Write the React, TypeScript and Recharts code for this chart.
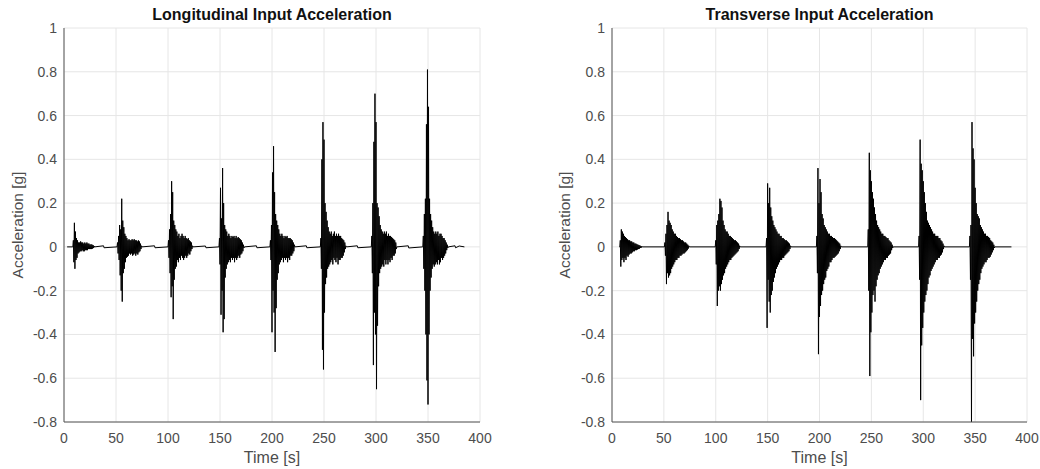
import { LineChart, Line, XAxis, YAxis, CartesianGrid } from "recharts";

// sample spacing inside each burst, seconds
const DT = 0.5;

const xTicks = [0, 50, 100, 150, 200, 250, 300, 350, 400];
const yTicks = [-0.8, -0.6, -0.4, -0.2, 0, 0.2, 0.4, 0.6, 0.8, 1];

// ---- Longitudinal ----
const longStart = 3;
const longEnd = 385;
const longOnsets = [9, 51.5, 100.5, 149.5, 198.5, 247, 296, 345.5];
const long1 = [0.03,-0.07,0.11,-0.10,0.07,-0.06,0.04,-0.05,0.03,-0.03,0.02,-0.025,0.02,-0.02,0.025,-0.02,0.02,-0.015,0.02,-0.02,0.015,-0.02,0.02,-0.015,0.015,-0.015,0.02,-0.015,0.015,-0.01,0.015,-0.01,0.01,-0.01,0.012,-0.01,0.01,-0.008,0.008,-0.005,0.004];
const long2 = [0.02,-0.03,0.05,-0.06,0.1,-0.13,0.08,-0.2,0.22,-0.25,0.12,-0.12,0.09,-0.1,0.06,-0.07,0.05,-0.05,0.04,-0.045,0.03,-0.04,0.035,-0.03,0.03,-0.035,0.03,-0.03,0.035,-0.04,0.03,-0.035,0.035,-0.03,0.03,-0.04,0.03,-0.03,0.025,-0.035,0.03,-0.025,0.025,-0.02,0.015,-0.01,0.005];
const long3 = [0.03,-0.05,0.08,-0.12,0.15,-0.23,0.30,-0.18,0.25,-0.33,0.12,-0.15,0.1,-0.1,0.08,-0.09,0.07,-0.06,0.05,-0.07,0.06,-0.05,0.04,-0.06,0.05,-0.04,0.06,-0.05,0.05,-0.06,0.04,-0.05,0.05,-0.04,0.04,-0.05,0.035,-0.04,0.04,-0.03,0.03,-0.035,0.025,-0.02,0.02,-0.01,0.005];
const long4 = [0.04,-0.08,0.27,-0.31,0.13,-0.2,0.36,-0.39,0.2,-0.33,0.1,-0.14,0.08,-0.1,0.07,-0.08,0.05,-0.07,0.06,-0.06,0.05,-0.07,0.04,-0.05,0.05,-0.06,0.045,-0.05,0.05,-0.07,0.04,-0.05,0.05,-0.06,0.04,-0.05,0.045,-0.04,0.04,-0.05,0.035,-0.035,0.03,-0.03,0.02,-0.02,0.01,-0.005];
const long5 = [0.03,-0.06,0.1,-0.39,0.34,-0.2,0.46,-0.3,0.25,-0.48,0.15,-0.28,0.12,-0.15,0.1,-0.12,0.08,-0.08,0.06,-0.07,0.05,-0.06,0.06,-0.05,0.05,-0.07,0.04,-0.05,0.05,-0.06,0.045,-0.05,0.05,-0.07,0.04,-0.05,0.04,-0.06,0.04,-0.04,0.035,-0.04,0.03,-0.03,0.02,-0.02,0.01];
const long6 = [0.04,-0.1,0.4,-0.47,0.57,-0.56,0.49,-0.3,0.2,-0.17,0.16,-0.14,0.12,-0.1,0.09,-0.09,0.07,-0.08,0.06,-0.07,0.07,-0.06,0.05,-0.08,0.06,-0.05,0.07,-0.06,0.05,-0.07,0.06,-0.05,0.05,-0.08,0.06,-0.06,0.05,-0.06,0.05,-0.05,0.04,-0.05,0.035,-0.04,0.03,-0.025,0.02,-0.01,0.005];
const long7 = [0.05,-0.12,0.2,-0.54,0.48,-0.3,0.7,-0.4,0.57,-0.65,0.2,-0.36,0.18,-0.18,0.14,-0.12,0.1,-0.1,0.08,-0.09,0.07,-0.08,0.06,-0.09,0.07,-0.06,0.06,-0.08,0.07,-0.06,0.05,-0.08,0.06,-0.06,0.05,-0.07,0.05,-0.05,0.045,-0.06,0.04,-0.04,0.035,-0.04,0.03,-0.03,0.02,-0.01];
const long8 = [0.05,-0.1,0.15,-0.2,0.22,-0.4,0.56,-0.61,0.81,-0.72,0.64,-0.4,0.22,-0.2,0.15,-0.14,0.12,-0.1,0.09,-0.08,0.07,-0.09,0.06,-0.08,0.07,-0.07,0.06,-0.08,0.07,-0.06,0.05,-0.08,0.06,-0.07,0.06,-0.05,0.05,-0.06,0.04,-0.05,0.04,-0.04,0.03,-0.03,0.02,-0.015,0.01,-0.005];
const longBlips: [number, number][] = [[38, 0.005], [38.5, -0.004], [87, 0.005], [87.5, -0.004], [136, 0.004], [136.5, -0.004], [185, 0.005], [185.5, -0.004], [233, 0.005], [233.5, -0.004], [282, 0.005], [282.5, -0.004], [331, 0.005], [331.5, -0.005], [376, 0.005], [376.5, -0.004], [380, 0.004]];

// ---- Transverse ----
const transStart = 7;
const transEnd = 385;
const transOnsets = [8, 51, 100, 149, 197.5, 247, 296, 345];
const trans1 = [0.03,-0.09,0.08,-0.06,0.07,-0.05,0.06,-0.07,0.05,-0.05,0.045,-0.06,0.04,-0.04,0.035,-0.045,0.03,-0.035,0.03,-0.03,0.025,-0.03,0.025,-0.025,0.02,-0.02,0.02,-0.02,0.015,-0.015,0.015,-0.015,0.012,-0.012,0.01,-0.01,0.008,-0.008,0.006,-0.005,0.004,-0.003,0.002];
const trans2 = [0.02,-0.04,0.06,-0.17,0.1,-0.12,0.16,-0.14,0.12,-0.13,0.11,-0.12,0.1,-0.1,0.08,-0.09,0.07,-0.08,0.06,-0.07,0.06,-0.06,0.05,-0.06,0.045,-0.05,0.04,-0.05,0.04,-0.04,0.035,-0.04,0.03,-0.035,0.03,-0.03,0.025,-0.03,0.02,-0.025,0.02,-0.02,0.015,-0.015,0.01,-0.008,0.005];
const trans3 = [0.03,-0.08,0.1,-0.27,0.12,-0.2,0.15,-0.18,0.22,-0.2,0.21,-0.17,0.18,-0.15,0.12,-0.13,0.1,-0.12,0.08,-0.1,0.07,-0.09,0.07,-0.08,0.06,-0.07,0.05,-0.06,0.05,-0.06,0.045,-0.05,0.04,-0.045,0.035,-0.04,0.03,-0.035,0.03,-0.03,0.025,-0.025,0.02,-0.02,0.015,-0.01,0.005];
const trans4 = [0.04,-0.37,0.29,-0.15,0.2,-0.25,0.27,-0.3,0.18,-0.22,0.14,-0.2,0.12,-0.16,0.1,-0.14,0.09,-0.12,0.08,-0.1,0.07,-0.09,0.06,-0.08,0.06,-0.07,0.05,-0.06,0.05,-0.06,0.04,-0.05,0.04,-0.05,0.035,-0.04,0.03,-0.035,0.03,-0.03,0.025,-0.025,0.02,-0.02,0.015,-0.01,0.005];
const trans5 = [0.05,-0.12,0.36,-0.49,0.2,-0.32,0.31,-0.27,0.25,-0.22,0.15,-0.2,0.13,-0.17,0.1,-0.15,0.09,-0.14,0.08,-0.11,0.07,-0.1,0.06,-0.09,0.06,-0.07,0.05,-0.07,0.05,-0.06,0.045,-0.05,0.04,-0.05,0.04,-0.045,0.035,-0.04,0.03,-0.035,0.025,-0.03,0.02,-0.02,0.015,-0.01,0.005];
const trans6 = [0.08,-0.2,0.43,-0.59,0.35,-0.39,0.3,-0.3,0.25,-0.22,0.22,-0.2,0.18,-0.25,0.15,-0.18,0.12,-0.15,0.1,-0.13,0.09,-0.12,0.08,-0.1,0.07,-0.09,0.06,-0.08,0.06,-0.07,0.05,-0.06,0.05,-0.06,0.045,-0.05,0.04,-0.05,0.04,-0.04,0.03,-0.035,0.025,-0.03,0.02,-0.015,0.01,-0.005];
const trans7 = [0.05,-0.15,0.49,-0.7,0.38,-0.45,0.35,-0.37,0.3,-0.3,0.25,-0.25,0.2,-0.22,0.16,-0.2,0.12,-0.17,0.11,-0.14,0.1,-0.13,0.09,-0.11,0.08,-0.1,0.07,-0.09,0.06,-0.08,0.06,-0.07,0.05,-0.06,0.05,-0.06,0.05,-0.05,0.04,-0.05,0.04,-0.04,0.03,-0.035,0.025,-0.025,0.015,-0.01,0.005];
const trans8 = [0.05,-0.15,0.1,-0.84,0.57,-0.42,0.45,-0.5,0.4,-0.35,0.27,-0.3,0.2,-0.25,0.15,-0.2,0.14,-0.17,0.13,-0.15,0.1,-0.12,0.09,-0.1,0.08,-0.09,0.07,-0.08,0.06,-0.07,0.06,-0.07,0.05,-0.06,0.05,-0.05,0.045,-0.05,0.04,-0.045,0.03,-0.035,0.025,-0.025,0.02,-0.015,0.01,-0.005];

type Pt = { t: number; v: number };

function buildSeries(start: number, end: number, onsets: number[], bursts: number[][], blips: [number, number][] = []): Pt[] {
  const pts: Pt[] = [];
  onsets.forEach((t0, k) => {
    pts.push({ t: t0 - DT, v: 0 });
    bursts[k].forEach((v, i) => pts.push({ t: t0 + i * DT, v }));
    pts.push({ t: t0 + bursts[k].length * DT, v: 0 });
  });
  blips.forEach(([t, v]) => pts.push({ t, v }));
  pts.sort((a, b) => a.t - b.t);
  return [{ t: start, v: 0 }, ...pts, { t: end, v: 0 }];
}

const longData = buildSeries(longStart, longEnd, longOnsets, [long1, long2, long3, long4, long5, long6, long7, long8], longBlips);
const transData = buildSeries(transStart, transEnd, transOnsets, [trans1, trans2, trans3, trans4, trans5, trans6, trans7, trans8]);

const FONT = '"Liberation Sans", Arial, Helvetica, sans-serif';
const TICK = { fontSize: 14, fill: "#4d4d4d", fontFamily: FONT };
const AXIS_LINE = { stroke: "#555", strokeWidth: 1 };

function Panel({ title, data, yAxisWidth, rightMargin, labelOffset }: {
  title: string; data: Pt[]; yAxisWidth: number; rightMargin: number; labelOffset: number;
}) {
  const plotCenter = (yAxisWidth + 520 - rightMargin) / 2;
  return (
    <div style={{ position: "relative", width: 520, height: 469 }}>
      <div style={{
        position: "absolute", top: 5, left: plotCenter - 200, width: 400, textAlign: "center",
        fontFamily: FONT, fontWeight: "bold", fontSize: 16, lineHeight: "20px", color: "#111",
      }}>
        {title}
      </div>
      <LineChart width={520} height={469} data={data} margin={{ top: 28, right: rightMargin, bottom: 2, left: 0 }}>
        <CartesianGrid stroke="#e6e6e6" />
        <XAxis
          dataKey="t" type="number" domain={[0, 400]} ticks={xTicks} interval={0}
          allowDataOverflow tickLine={false} tickSize={6} tickMargin={5} height={45}
          axisLine={AXIS_LINE} tick={TICK}
          label={{ value: "Time [s]", position: "insideBottom", offset: 4, style: { fontSize: 16, fill: "#4d4d4d", fontFamily: FONT } }}
        />
        <YAxis
          type="number" domain={[-0.8, 1]} ticks={yTicks} interval={0} allowDataOverflow
          tickLine={false} tickSize={6} tickMargin={1} width={yAxisWidth}
          axisLine={AXIS_LINE} tick={TICK} tickFormatter={(v: number) => String(v)}
          label={{ value: "Acceleration [g]", angle: -90, position: "insideLeft", offset: labelOffset, style: { textAnchor: "middle", fontSize: 15.5, fill: "#4d4d4d", fontFamily: FONT } }}
        />
        <Line type="linear" dataKey="v" stroke="#000" strokeWidth={1} dot={false} isAnimationActive={false} />
      </LineChart>
    </div>
  );
}

export default function App() {
  return (
    <div style={{ position: "absolute", left: 0, top: 0, width: 1040, height: 469, background: "#fff", display: "flex" }}>
      <Panel title="Longitudinal Input Acceleration" data={longData} yAxisWidth={64} rightMargin={40} labelOffset={17} />
      <Panel title="Transverse Input Acceleration" data={transData} yAxisWidth={92} rightMargin={13} labelOffset={44} />
    </div>
  );
}
